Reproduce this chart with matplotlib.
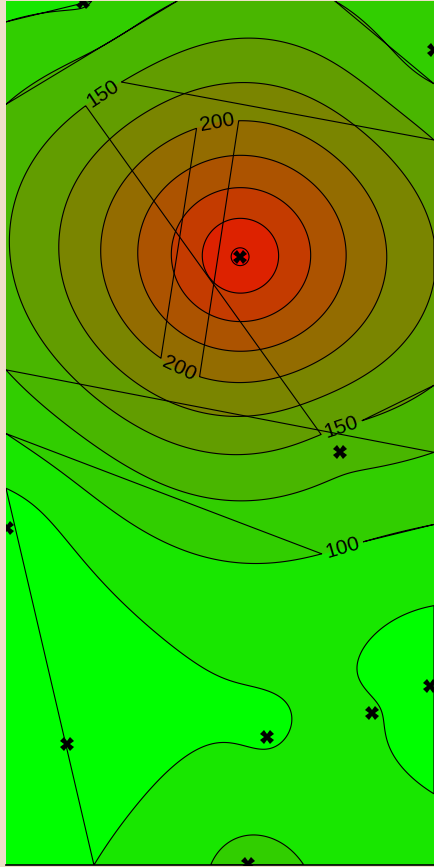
import numpy as np
import matplotlib
matplotlib.use("Agg")
import matplotlib.pyplot as plt
from matplotlib.collections import LineCollection
from matplotlib.path import Path

plt.rcParams['font.family'] = ['Liberation Sans', 'DejaVu Sans']

# Station positions (map units) and measured values
station_x = [77, 428, 234, 334, 1, 61, 261, 366, 424, 242]
station_y = [863, 815, 608, 413, 337, 121, 128, 152, 179, 1]
station_val = [97, 108, 308, 134, 56, 55, 72, 79, 51, 110]

# Contour levels and which ones carry a value label
levels = [75, 100, 125, 150, 175, 200, 225, 250, 275, 300]
label_levels = [100, 150, 200]
label_spots = [(95, 775), (334, 442), (211, 744), (174, 497), (335, 322)]

x_extent = (0, 428)
y_extent = (0, 864)


def linear_rbf(px, py, pv, gx, gy):
    """Polyharmonic (phi = r) interpolation with a linear trend."""
    pts = np.column_stack([px, py]).astype(float)
    vals = np.asarray(pv, dtype=float)
    n = len(pts)
    d = np.hypot(pts[:, 0, None] - pts[None, :, 0], pts[:, 1, None] - pts[None, :, 1])
    poly = np.column_stack([np.ones(n), pts])
    a = np.zeros((n + 3, n + 3))
    a[:n, :n] = d
    a[:n, n:] = poly
    a[n:, :n] = poly.T
    coef = np.linalg.solve(a, np.concatenate([vals, np.zeros(3)]))
    w, c = coef[:n], coef[n:]
    dd = np.hypot(gx[..., None] - pts[:, 0], gy[..., None] - pts[:, 1])
    return dd @ w + c[0] + c[1] * gx + c[2] * gy


gx, gy = np.meshgrid(np.linspace(*x_extent, 429), np.linspace(*y_extent, 865))
gz = linear_rbf(station_x, station_y, station_val, gx, gy)

# green -> red band colours, one per interval
green_red = matplotlib.colors.LinearSegmentedColormap.from_list('gr', ['#00ff00', '#ff0000'])
band_colors = [green_red(f) for f in np.linspace(0, 0.96, len(levels) + 1)]
fill_levels = [-1e4] + levels + [1e4]

fig = plt.figure(figsize=(4.34, 8.67), dpi=100, facecolor='#eee0c8')
ax = fig.add_axes([6 / 434, 2 / 867, 428 / 434, 864 / 867])
ax.set_xlim(*x_extent)
ax.set_ylim(*y_extent)

ax.contourf(gx, gy, gz, levels=fill_levels, colors=band_colors)
plain_levels = [lv for lv in levels if lv not in label_levels]
cs_plain = ax.contour(gx, gy, gz, levels=plain_levels, colors='k', linewidths=0.8)
cs_lab = ax.contour(gx, gy, gz, levels=label_levels, colors='k', linewidths=0.8)
ax.clabel(cs_lab, inline=True, inline_spacing=4, fmt='%d',
          fontsize=15, colors='k', manual=label_spots)

# redraw every contour piece as a closed outline
pieces = []
for cs in (cs_plain, cs_lab):
    for p in cs.get_paths():
        if len(p.vertices) == 0:
            continue
        codes = p.codes if p.codes is not None else np.full(len(p.vertices), Path.LINETO)
        starts = list(np.nonzero(codes == Path.MOVETO)[0]) + [len(codes)]
        if starts[0] != 0:
            starts = [0] + starts
        for s, e in zip(starts[:-1], starts[1:]):
            seg = p.vertices[s:e]
            seg = seg[codes[s:e] != Path.CLOSEPOLY]
            if len(seg) < 2:
                continue
            pieces.append(np.vstack([seg, seg[:1]]))
    cs.set_visible(False)
ax.add_collection(LineCollection(pieces, colors='k', linewidths=0.8, zorder=3))

ax.plot(station_x, station_y, linestyle='none', marker='X', markersize=10,
        color='k', markeredgewidth=0, zorder=4)

ax.set_xticks([])
ax.set_yticks([])
for side in ('left', 'right', 'top'):
    ax.spines[side].set_visible(False)
ax.spines['bottom'].set_linewidth(1.2)

fig.savefig('out.png', dpi=100, facecolor=fig.get_facecolor())
